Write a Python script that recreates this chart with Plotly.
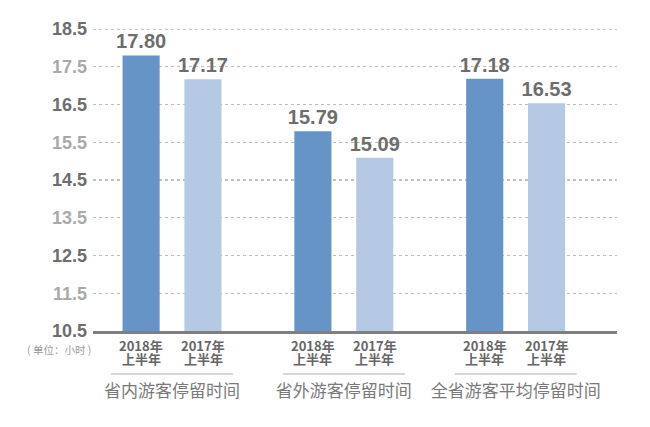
import plotly.graph_objects as go

# data (hours)
categories = ["省内游客停留时间", "省外游客停留时间", "全省游客平均停留时间"]
values_2018 = [17.80, 15.79, 17.18]
values_2017 = [17.17, 15.09, 16.53]
series_names = [("2018年", "上半年"), ("2017年", "上半年")]
y_ticks = [10.5, 11.5, 12.5, 13.5, 14.5, 15.5, 16.5, 17.5, 18.5]
unit_label = "( 单位：小时 )"

DARK = "#6694c6"
LIGHT = "#b5c8e4"
TXT = "#6d6d6d"
FONT = "Liberation Sans, Arial, Noto Sans CJK SC, sans-serif"
CJK = "Noto Sans CJK SC, sans-serif"

fig = go.Figure()
for vals, color, name in [(values_2018, DARK, series_names[0]), (values_2017, LIGHT, series_names[1])]:
    fig.add_trace(go.Bar(
        x=categories, y=vals, name="".join(name),
        marker=dict(color=color, line=dict(width=0)),
        texttemplate="%{y:.2f}", textposition="outside", constraintext="none",
        textfont=dict(family=FONT, size=20, color=TXT, weight="bold"),
        cliponaxis=False, showlegend=False,
    ))

# alternate dark / light tick labels like the original
tick_text = []
shapes = []
for i, v in enumerate(y_ticks):
    c = "#6d6d6d" if i % 2 == 0 else "#a9a9a9"
    tick_text.append(f"<span style='color:{c}'><b>{v:.1f}</b></span>")
    if i % 2 == 0 and i > 0:
        # the darker dotted grid lines
        shapes.append(dict(
            type="line", xref="paper", yref="y", x0=0, x1=1, y0=v, y1=v,
            layer="below", line=dict(color="#8a8a8a", width=1, dash="dot"),
        ))

# per-bar year labels (two tight lines) and bracket lines under each group
annotations = []
for cat in categories:
    for name, shift in zip(series_names, [-31, 31]):
        for line, dy in zip(name, [-14, -27]):
            annotations.append(dict(
                x=cat, xref="x", y=0, yref="paper", xshift=shift, yshift=dy,
                text=f"<b>{line}</b>", showarrow=False, yanchor="middle",
                font=dict(family=CJK, size=13, color="#666666"),
            ))
    shapes.append(dict(
        type="line", xref="x", yref="paper", x0=cat, x1=cat,
        x0shift=-0.355, x1shift=0.355, y0=-0.142, y1=-0.142,
        line=dict(color="#c8c8c8", width=1.5),
    ))

annotations.append(dict(
    x=0, xref="paper", y=0, yref="paper", yshift=-18,
    xanchor="right", yanchor="middle", text=unit_label, showarrow=False,
    font=dict(family=CJK, size=10.5, color="#9a9a9a"),
))

fig.update_layout(
    width=650, height=427,
    margin=dict(l=85, r=41, t=21, b=104, autoexpand=False),
    plot_bgcolor="white", paper_bgcolor="white",
    barmode="group", bargap=0.28, bargroupgap=0.40,
    annotations=annotations, shapes=shapes,
    xaxis=dict(
        range=[-0.46, 2.59], showgrid=False, automargin=False,
        showline=True, linecolor="#7f7f7f", linewidth=2.5,
        ticks="", ticklabelstandoff=43,
        tickfont=dict(family=CJK, size=17, color="#7a7a7a"),
    ),
    yaxis=dict(
        range=[10.5, 18.5], tickvals=y_ticks, ticktext=tick_text, automargin=False,
        showgrid=True, gridcolor="#bdbdbd", griddash="dot", gridwidth=1,
        zeroline=False, showline=False, ticks="", ticklabelstandoff=5,
        tickfont=dict(family=FONT, size=18),
    ),
)

fig.write_html("out.html")
